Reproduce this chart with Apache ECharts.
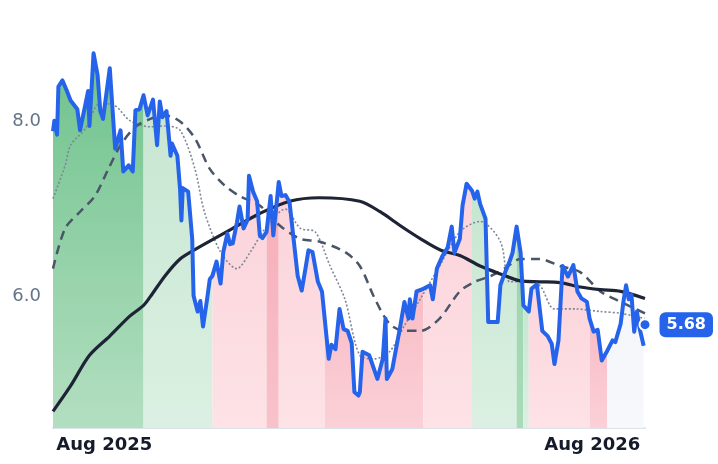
<!DOCTYPE html>
<html><head><meta charset="utf-8">
<script src="https://cdn.jsdelivr.net/npm/echarts@6/dist/echarts.min.js"></script>
<style>html,body{margin:0;padding:0;background:#fff}#c{width:718px;height:464px}</style>
</head><body><div id="c"></div>
<script>
// day offsets from start of window and price values
const priceDays = [0,1,3,4,7,10,13,18,20,24,26,27,30,33,35,37,42,46,50,52,56,59,61,64,67,70,74,77,79,81,84,87,88,92,94,95,96,100,103,104,107,109,111,114,116,118,121,124,126,129,131,133,136,138,141,144,145,148,151,153,155,158,161,163,166,167,169,172,175,178,181,184,187,189,192,196,199,201,204,206,209,212,215,218,221,223,226,227,229,234,240,244,246,247,251,257,260,263,264,266,269,274,279,281,284,288,292,295,297,301,303,306,310,312,314,316,320,322,325,329,331,334,338,340,343,346,348,352,354,358,362,366,369,371,374,377,381,385,388,391,395,397,400,403,406,410,414,416,420,422,424,426,428,430,432,434,437];
const priceVals = [7.89,8.01,7.85,8.40,8.47,8.36,8.24,8.14,7.90,8.20,8.35,7.95,8.78,8.53,8.12,8.03,8.61,7.69,7.90,7.43,7.50,7.43,8.13,8.14,8.30,8.07,8.25,7.73,8.23,8.05,8.12,7.61,7.75,7.61,7.23,6.87,7.24,7.20,6.66,6.01,5.83,5.95,5.66,5.97,6.20,6.24,6.40,6.15,6.51,6.72,6.60,6.61,6.84,7.03,6.78,6.88,7.38,7.20,7.09,6.70,6.67,6.74,7.15,6.70,7.15,7.31,7.15,7.16,7.08,6.66,6.24,6.07,6.34,6.53,6.51,6.17,6.06,5.75,5.29,5.45,5.40,5.86,5.63,5.61,5.47,4.91,4.87,4.91,5.37,5.33,5.06,5.29,5.75,5.06,5.17,5.67,5.94,5.75,5.97,5.75,6.06,6.09,6.13,5.97,6.32,6.46,6.56,6.80,6.50,6.66,7.04,7.29,7.21,7.12,7.20,7.06,6.89,5.71,5.71,5.71,6.13,6.26,6.41,6.50,6.80,6.50,5.90,5.83,6.09,6.14,5.61,5.55,5.46,5.23,5.50,6.35,6.23,6.36,6.06,5.98,5.94,5.75,5.60,5.62,5.27,5.38,5.50,5.48,5.69,5.94,6.13,5.97,6.02,5.60,5.83,5.64,5.44];
const longDays = [0,13,27,42,57,67,72,83,94,104,133,153,175,197,227,242,257,272,287,301,316,331,346,360,375,390,405,420,438];
const longVals = [4.69,4.98,5.33,5.55,5.78,5.90,6.0,6.24,6.43,6.53,6.78,6.95,7.09,7.13,7.09,6.97,6.81,6.66,6.53,6.47,6.35,6.26,6.18,6.17,6.16,6.11,6.08,6.06,5.98];
const midDays = [0,9,20,31,41,50,61,72,83,94,105,116,127,138,153,168,183,197,216,227,238,249,260,272,286,301,312,323,334,346,360,375,390,405,420,438];
const midVals = [6.32,6.78,6.97,7.15,7.46,7.73,7.94,8.03,8.07,8.0,7.81,7.46,7.27,7.15,7.04,6.81,6.66,6.63,6.51,6.35,5.98,5.69,5.61,5.61,5.75,6.06,6.17,6.23,6.32,6.43,6.43,6.35,6.28,6.06,5.94,5.81];
const shortDays = [0,9,13,24,35,46,57,72,83,94,105,112,124,136,146,157,172,183,194,205,216,227,238,249,260,272,286,301,316,331,338,349,360,371,386,405,420,438];
const shortVals = [7.12,7.5,7.73,7.92,8.21,8.18,8.01,7.94,7.95,7.9,7.46,6.97,6.51,6.32,6.51,6.78,7.0,6.78,6.74,6.35,5.97,5.33,5.29,5.37,5.67,5.98,6.35,6.74,6.86,6.63,6.17,6.17,6.13,5.86,5.86,5.83,5.81,5.75];
// shaded regimes: [startDay, endDay, kind]
const regimes = [[0,67,'g2'],[67,118,'g1'],[118,158,'r1'],[158,167,'r3'],[167,201,'r1'],[201,274,'r2'],[274,310,'r1'],[310,343,'g1'],[343,348,'g3'],[348,352,'g1'],[352,397,'r1'],[397,410,'r2'],[410,437,'n']];
const xTickDays = [38,399];
const xTickLabels = ['Aug 2025','Aug 2026'];
const yTicks = [6,8];
const lastDay = 438, lastValue = 5.68;

const fills = {
  g2:['#6fc28c','#b3dfc1'], g1:['#c6e6d1','#dbf0e2'], g3:['#9bd4ae','#a9dbb9'],
  r1:['#fbd3da','#fde2e6'], r2:['#f8bcc6','#fbd0d7'], r3:['#f6adb9','#f8c2cb'], n:['#f4f6f9','#f7f8fb']
};
const pairs = (d,v)=>d.map((x,i)=>[x,v[i]]);
const price = pairs(priceDays, priceVals);
const series = [];
regimes.forEach(([a,b,k])=>{
  series.push({type:'line', data: price.filter(p=>p[0]>=a&&p[0]<=b), showSymbol:false, silent:true,
    lineStyle:{width:0}, z:1,
    areaStyle:{origin:'start', opacity:1, color:{type:'linear',x:0,y:0,x2:0,y2:1,colorStops:[{offset:0,color:fills[k][0]},{offset:1,color:fills[k][1]}]}}});
});
series.push({type:'line', data:pairs(shortDays,shortVals), showSymbol:false, smooth:0.3, z:3, lineStyle:{color:'#7d8796', width:1.6, type:[2,2]}});
series.push({type:'line', data:pairs(midDays,midVals), showSymbol:false, smooth:0.3, z:3, lineStyle:{color:'#4a5568', width:2.5, type:[9,6]}});
series.push({type:'line', data:pairs(longDays,longVals), showSymbol:false, smooth:0.3, z:4, lineStyle:{color:'#1e2436', width:3.2}});
series.push({type:'line', data:price, showSymbol:false, z:5, lineStyle:{color:'#2563eb', width:4, join:'round'}});
series.push({type:'scatter', data:[[lastDay,lastValue]], symbolSize:11, z:6, clip:false, silent:true,
  itemStyle:{color:'#2563eb', borderColor:'#fff', borderWidth:2, opacity:1},
  label:{show:true, position:'right', distance:8, formatter:p=>p.value[1].toFixed(2), color:'#fff', fontWeight:'bold',
    fontSize:16, fontFamily:'DejaVu Sans', backgroundColor:'#2563eb', borderRadius:6, padding:[5,7,4,7]}});

const chart = echarts.init(document.getElementById('c'), null, {renderer:'canvas'});
chart.setOption({
  animation:false,
  grid:{left:53, right:73, top:34, bottom:36},
  xAxis:{type:'value', min:0, max:lastDay, splitLine:{show:false},
    axisLine:{show:true, lineStyle:{color:'#dde3ea', width:2}}, axisTick:{show:false},
    axisLabel:{customValues:xTickDays, formatter:v=>xTickLabels[xTickDays.indexOf(v)]||'', color:'#151b2b', fontWeight:'bold', fontSize:18, fontFamily:'DejaVu Sans', margin:8}},
  yAxis:{type:'value', min:4.5, max:9, splitLine:{show:false}, axisLine:{show:false}, axisTick:{show:false},
    axisLabel:{customValues:yTicks, formatter:v=>v.toFixed(1), color:'#64748b', fontSize:18, fontFamily:'DejaVu Sans', margin:12}},
  series
});
</script></body></html>
